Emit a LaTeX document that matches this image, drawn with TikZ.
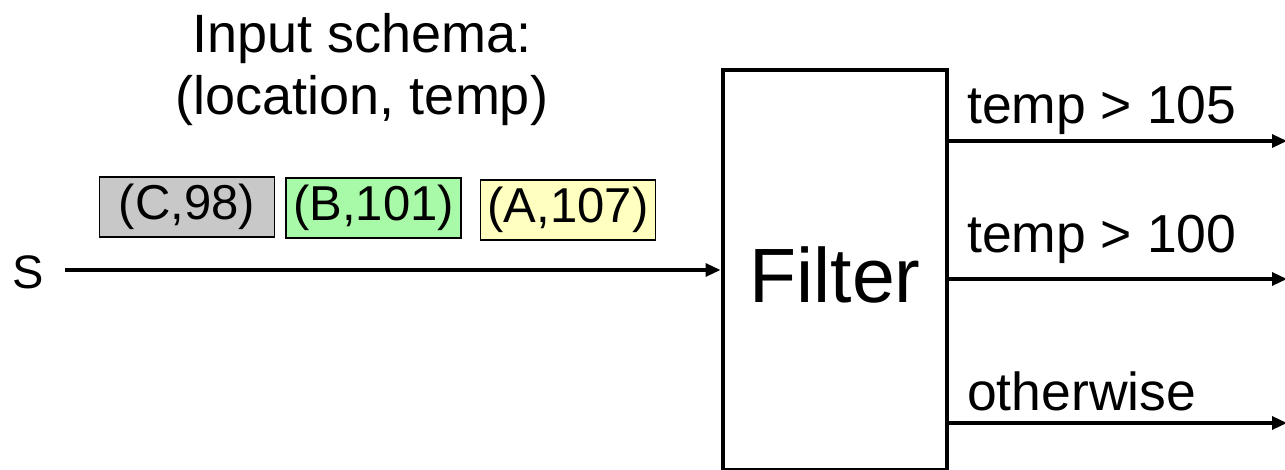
\documentclass[tikz,border=0pt]{standalone}
\usepackage{fontspec}
\setmainfont{Liberation Sans}
\usetikzlibrary{arrows.meta}
\definecolor{tgray}{RGB}{200,200,200}
\definecolor{tgreen}{RGB}{168,250,168}
\definecolor{tyellow}{RGB}{255,255,192}
\tikzset{
  tuplebox/.style={draw=black, line width=1.2pt, minimum width=175pt, minimum height=60pt, inner sep=0pt, font=\fontsize{49}{58}\selectfont},
  conn/.style={line width=3.2pt, -{Triangle[length=15pt,width=13pt]}},
  lbl/.style={anchor=base west, inner sep=0pt, font=\fontsize{53.5}{62}\selectfont}
}
\begin{document}
\begin{tikzpicture}[x=1pt,y=-1pt]
\useasboundingbox (0,0) rectangle (1285,470);
\clip (0,0) rectangle (1285,470);
\node[align=center, font=\fontsize{54}{62}\selectfont] (title) at (362,70) {Input schema:\\(location, temp)};
\node[tuplebox, fill=tgray] (tc) at (187,207) {(C,98)};
\node[tuplebox, fill=tgreen] (tb) at (373.5,208) {(B,101)};
\node[tuplebox, fill=tyellow] (ta) at (568,210) {(A,107)};
\node[font=\fontsize{47}{55}\selectfont, inner sep=0pt] (s) at (28,272) {S};
\node[draw, line width=4pt, minimum width=224pt, minimum height=400pt, inner sep=0pt] (filter) at (834.5,270) {};
\node[font=\fontsize{77}{90}\selectfont, anchor=base] (ft) at (835,303) {Filter};
\coordinate (o1) at (1287,141);
\coordinate (o2) at (1287,279);
\coordinate (o3) at (1287,423);
\draw[conn] (65,270) coordinate (sin) -- (sin -| filter.west);
\draw[conn] (filter.east |- o1) -- (o1);
\draw[conn] (filter.east |- o2) -- (o2);
\draw[conn] (filter.east |- o3) -- (o3);
\node[lbl] (l1) at (967,124) {temp > 105};
\node[lbl] (l2) at (967,253) {temp > 100};
\node[lbl] (l3) at (967,410) {otherwise};
\end{tikzpicture}
\end{document}
